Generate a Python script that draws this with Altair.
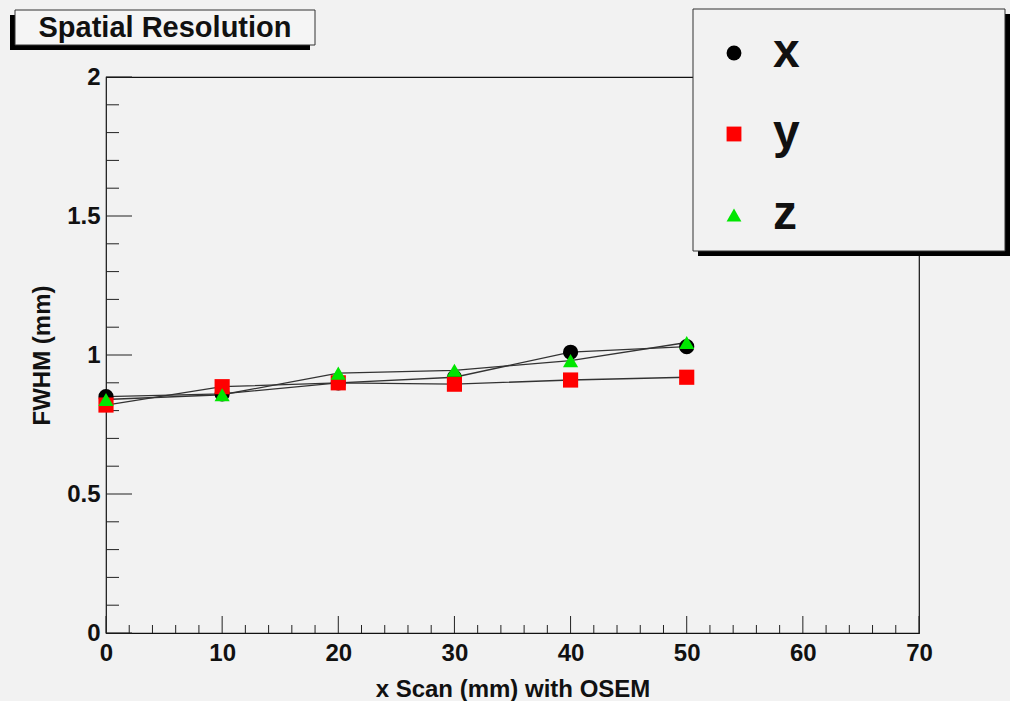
import altair as alt
import pandas as pd

# ---- data ----
scan_mm = [0, 10, 20, 30, 40, 50]
fwhm_x = [0.85, 0.86, 0.90, 0.92, 1.01, 1.03]
fwhm_y = [0.82, 0.886, 0.90, 0.895, 0.91, 0.92]
fwhm_z = [0.84, 0.857, 0.935, 0.945, 0.98, 1.045]
series_names = ["x", "y", "z"]
series_colors = ["#000000", "#ff0000", "#00e600"]
series_shapes = ["circle", "square", "triangle-up"]

x_major = [0, 10, 20, 30, 40, 50, 60, 70]
x_minor = [2, 4, 6, 8, 12, 14, 16, 18, 22, 24, 26, 28, 32, 34, 36, 38,
           42, 44, 46, 48, 52, 54, 56, 58, 62, 64, 66, 68]
y_major = [0, 0.5, 1, 1.5, 2]
y_minor = [0.1, 0.2, 0.3, 0.4, 0.6, 0.7, 0.8, 0.9, 1.1, 1.2, 1.3, 1.4,
           1.6, 1.7, 1.8, 1.9]

title_text = "Spatial Resolution"
x_title = "x Scan (mm) with OSEM"
y_title = "FWHM (mm)"

FONT = "Liberation Sans"
W, H = 813, 556
BG = "#f2f2f2"

rows = []
for name, vals in zip(series_names, [fwhm_x, fwhm_y, fwhm_z]):
    for xv, yv in zip(scan_mm, vals):
        rows.append({"scan": xv, "fwhm": yv, "series": name})
df = pd.DataFrame(rows)

xscale = alt.Scale(domain=[0, 70], nice=False, zero=False)
yscale = alt.Scale(domain=[0, 2], nice=False, zero=False)

x_enc = alt.X("scan:Q", scale=xscale,
              axis=alt.Axis(title=x_title, values=x_major, ticks=False, domain=False,
                            grid=False, labelFont=FONT, labelFontSize=24,
                            labelFontWeight="bold", labelColor="#111",
                            labelPadding=8, labelFlush=False, format="~g",
                            titleFont=FONT, titleFontSize=24,
                            titleFontWeight="bold", titleColor="#111",
                            titlePadding=12))
y_enc = alt.Y("fwhm:Q", scale=yscale,
              axis=alt.Axis(title=y_title, values=y_major, ticks=False, domain=False,
                            grid=False, labelFont=FONT, labelFontSize=24,
                            labelFontWeight="bold", labelColor="#111",
                            labelPadding=6, labelFlush=False, format="~g",
                            titleFont=FONT, titleFontSize=24,
                            titleFontWeight="bold", titleColor="#111",
                            titlePadding=12))

lines = alt.Chart(df).mark_line(color="#333333", strokeWidth=1.3).encode(
    x=x_enc, y=y_enc, detail="series:N", order="scan:Q")

points = alt.Chart(df).mark_point(filled=True, opacity=1, size=230, strokeWidth=0).encode(
    x="scan:Q", y="fwhm:Q",
    color=alt.Color("series:N", scale=alt.Scale(domain=series_names, range=series_colors),
                    legend=alt.Legend(orient="none", legendX=604, legendY=-48, title=None,
                                      labelFont=FONT, labelFontSize=48,
                                      labelFontWeight="bold", labelColor="#111",
                                      symbolSize=220, rowPadding=33, labelOffset=15,
                                      padding=0, symbolStrokeWidth=0)),
    shape=alt.Shape("series:N", scale=alt.Scale(domain=series_names, range=series_shapes)),
)

# inward ticks (ROOT style)
xmaj = alt.Chart(pd.DataFrame({"v": x_major})).mark_rule(color="#222", strokeWidth=1).encode(
    x=alt.X("v:Q", scale=xscale), y=alt.value(H), y2=alt.value(H - 17))
xmin = alt.Chart(pd.DataFrame({"v": x_minor})).mark_rule(color="#222", strokeWidth=1).encode(
    x=alt.X("v:Q", scale=xscale), y=alt.value(H), y2=alt.value(H - 8))
ymaj = alt.Chart(pd.DataFrame({"v": y_major})).mark_rule(color="#222", strokeWidth=1).encode(
    y=alt.Y("v:Q", scale=yscale), x=alt.value(0), x2=alt.value(26))
ymin = alt.Chart(pd.DataFrame({"v": y_minor})).mark_rule(color="#222", strokeWidth=1).encode(
    y=alt.Y("v:Q", scale=yscale), x=alt.value(0), x2=alt.value(13))

one = pd.DataFrame({"t": [title_text]})

# title box with shadow
title_shadow = alt.Chart(one).mark_rect(color="#000").encode(
    x=alt.value(-96), x2=alt.value(204), y=alt.value(-62), y2=alt.value(-27))
title_box = alt.Chart(one).mark_rect(fill="#f5f5f5", stroke="#333", strokeWidth=1).encode(
    x=alt.value(-91), x2=alt.value(209), y=alt.value(-67), y2=alt.value(-32))
title_txt = alt.Chart(one).mark_text(font=FONT, fontSize=29, fontWeight="bold",
                                     color="#111", align="center", baseline="middle").encode(
    x=alt.value(59), y=alt.value(-49), text="t:N")

# legend box with shadow
leg_shadow = alt.Chart(one).mark_rect(color="#000").encode(
    x=alt.value(592), x2=alt.value(904), y=alt.value(-63), y2=alt.value(179))
leg_box = alt.Chart(one).mark_rect(fill=BG, stroke="#333", strokeWidth=1).encode(
    x=alt.value(587), x2=alt.value(899), y=alt.value(-68), y2=alt.value(174))

chart = alt.layer(
    xmaj, xmin, ymaj, ymin, lines, points,
    title_shadow, title_box, title_txt, leg_shadow, leg_box,
).properties(
    width=W, height=H,
    padding={"left": 106, "top": 77, "right": 91, "bottom": 68},
    autosize="none",
).configure(background=BG).configure_view(fill=BG, stroke="#111", strokeWidth=1.2)

chart.save("out.html", embed_options={"renderer": "svg", "actions": False})
